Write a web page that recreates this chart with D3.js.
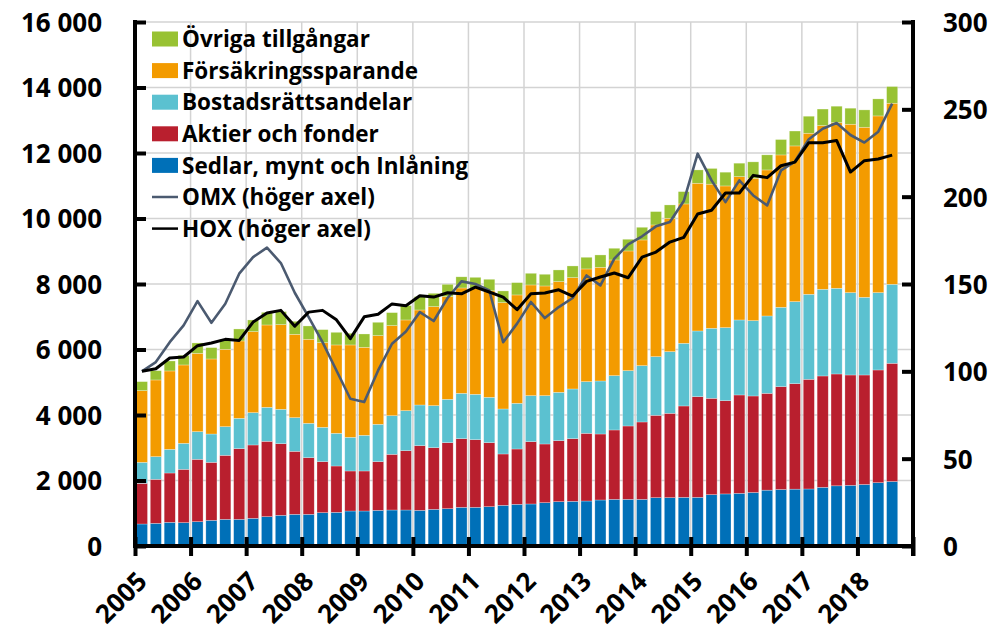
<!DOCTYPE html>
<html>
<head>
<meta charset="utf-8">
<script src="https://cdn.jsdelivr.net/npm/d3@7"></script>
<style>
  html, body { margin: 0; padding: 0; background: #ffffff; }
  svg { display: block; }
  text { font-family: "Open Sans", Lato, "Noto Sans", sans-serif; font-weight: 700; fill: #000; }
</style>
</head>
<body>
<svg id="chart" width="999" height="632"></svg>
<script>
// ---------------- DATA ----------------
const years = [2005, 2006, 2007, 2008, 2009, 2010, 2011, 2012, 2013, 2014, 2015, 2016, 2017, 2018];
const quarterNames = ["Q1", "Q2", "Q3", "Q4"];

const yearTicks = [2005, 2006, 2007, 2008, 2009, 2010, 2011, 2012, 2013, 2014, 2015, 2016, 2017, 2018, 2019];
const leftTicks = [0, 2000, 4000, 6000, 8000, 10000, 12000, 14000, 16000];
const rightTicks = [0, 50, 100, 150, 200, 250, 300];

// Sedlar, mynt och Inlåning
const sedlar = [672, 692, 723, 713, 743, 784, 814, 814, 845, 896, 937, 967, 967, 1018,
  1028, 1069, 1069, 1089, 1099, 1099, 1089, 1120, 1140, 1181, 1181, 1201, 1242, 1273,
  1283, 1323, 1354, 1364, 1374, 1405, 1425, 1425, 1425, 1476, 1476, 1486, 1486, 1568,
  1590, 1608, 1634, 1705, 1726, 1736, 1741, 1792, 1838, 1853, 1878, 1934, 1970];
// Aktier och fonder
const aktier = [1242, 1344, 1506, 1628, 1904, 1771, 1955, 2159, 2240, 2301, 2188, 1924, 1731, 1558,
  1415, 1222, 1222, 1487, 1701, 1812, 1975, 1883, 2016, 2097, 2066, 1955, 1568, 1689,
  1903, 1792, 1863, 1914, 2067, 2015, 2118, 2240, 2362, 2515, 2576, 2790, 3075, 2942,
  2848, 3004, 2947, 2957, 3140, 3222, 3349, 3400, 3415, 3369, 3344, 3441, 3609];
// Bostadsrättsandelar
const bostadsratt = [641, 692, 723, 794, 845, 865, 875, 926, 987, 1038, 1049, 1028, 1048, 1048,
  998, 1028, 1089, 1140, 1180, 1222, 1242, 1283, 1323, 1384, 1385, 1384, 1374, 1395,
  1405, 1476, 1476, 1517, 1578, 1619, 1659, 1690, 1720, 1791, 1883, 1913, 2005, 2138,
  2230, 2290, 2301, 2362, 2423, 2504, 2596, 2647, 2616, 2515, 2372, 2362, 2412];
// Försäkringssparande
const forsakring = [2189, 2342, 2393, 2393, 2392, 2291, 2362, 2362, 2474, 2514, 2586, 2545, 2566, 2586,
  2698, 2820, 2687, 2708, 2749, 2769, 2901, 3023, 3136, 3217, 3227, 3253, 3247, 3309,
  3380, 3349, 3380, 3400, 3441, 3471, 3532, 3654, 3838, 4021, 4072, 4256, 4510, 4400,
  4326, 4377, 4347, 4459, 4652, 4754, 4917, 4998, 5060, 5141, 5192, 5395, 5528];
// Övriga tillgångar
const ovriga = [275, 285, 305, 295, 316, 346, 306, 366, 356, 387, 397, 397, 407, 397,
  386, 356, 407, 407, 397, 438, 408, 407, 376, 340, 345, 351, 357, 376,
  356, 357, 356, 356, 356, 377, 357, 357, 387, 408, 407, 376, 407, 480,
  420, 410, 500, 460, 470, 455, 520, 505, 500, 490, 530, 520, 510];

// OMX (höger axel)
const omx = [100, 105.3, 116.7, 126.3, 140.2, 127.8, 138.7, 155.9, 165.4, 170.8, 162, 145, 131, 116.7,
  100.5, 84.3, 82.4, 100.5, 115.8, 122.8, 133.9, 128.8, 142, 151.5, 150, 146.3, 116.7, 127.3,
  139.7, 130.5, 136.8, 142, 154.9, 149.2, 164.5, 172.7, 177.3, 183, 185.5, 197.5, 224.6, 209.3,
  196.9, 209.3, 200.7, 195, 215, 220.1, 232.9, 238.9, 242.2, 235.3, 231, 237.2, 253.3];
// HOX (höger axel)
const hox = [100, 101.5, 107.6, 108.2, 114.7, 116.2, 118.3, 117.7, 128.2, 133.4, 134.9, 125.8, 133.9, 134.9,
  129.5, 118.7, 131.2, 132.7, 138.6, 137.6, 143.3, 142.5, 145, 144.4, 148.2, 145.4, 142.5, 135.3,
  144.4, 144.8, 146.7, 143.1, 151.5, 154, 156.3, 153.6, 165.4, 168.3, 174, 176.7, 190.1, 192.2,
  202.1, 202.1, 212.2, 210.9, 217.7, 219.8, 230.9, 230.9, 232.2, 214.1, 220.6, 221.6, 223.8];

const seriesNames = ["Sedlar, mynt och Inlåning", "Aktier och fonder", "Bostadsrättsandelar",
  "Försäkringssparande", "Övriga tillgångar"];
const seriesKeys = ["sedlar", "aktier", "bostadsratt", "forsakring", "ovriga"];
const seriesColors = ["#0070b8", "#b91f2e", "#5bc1d0", "#f39b00", "#98c233"];
const lineNames = ["OMX (höger axel)", "HOX (höger axel)"];
const lineColors = ["#4b5a70", "#000000"];

// ---------------- BUILD ----------------
const quarters = years.flatMap(y => quarterNames.map(q => y + q));
const seriesArrays = [sedlar, aktier, bostadsratt, forsakring, ovriga];
const table = sedlar.map((_, i) => {
  const row = { q: quarters[i] };
  seriesKeys.forEach((k, j) => row[k] = seriesArrays[j][i]);
  return row;
});

const svg = d3.select("#chart");
const plot = { left: 135, right: 913, top: 22, bottom: 546 };

const x = d3.scaleBand().domain(quarters).range([plot.left, plot.right])
  .paddingInner(0.2).paddingOuter(0.1);
const xYear = d3.scaleLinear().domain([2005, 2019]).range([plot.left, plot.right]);
const yL = d3.scaleLinear().domain([0, 16000]).range([plot.bottom, plot.top]);
const yR = d3.scaleLinear().domain([0, 300]).range([plot.bottom, plot.top]);

// gridlines
const grid = svg.append("g").attr("class", "grid");
grid.selectAll("line.h").data(leftTicks.filter(d => d > 0)).join("line")
  .attr("x1", plot.left).attr("x2", plot.right)
  .attr("y1", d => yL(d)).attr("y2", d => yL(d))
  .attr("stroke", "#d3d3d3").attr("stroke-width", 1.5);
grid.selectAll("line.v").data(yearTicks.filter(d => d > 2005 && d < 2019)).join("line")
  .attr("x1", d => xYear(d)).attr("x2", d => xYear(d))
  .attr("y1", plot.top).attr("y2", plot.bottom)
  .attr("stroke", "#d3d3d3").attr("stroke-width", 1.5);

// stacked bars
const stack = d3.stack().keys(seriesKeys)(table);
svg.append("g").selectAll("g").data(stack).join("g")
  .attr("fill", (d, i) => seriesColors[i])
  .selectAll("rect").data(d => d).join("rect")
  .attr("x", d => x(d.data.q))
  .attr("width", x.bandwidth())
  .attr("y", d => yL(d[1]))
  .attr("height", d => yL(d[0]) - yL(d[1]))
  .attr("stroke", "#ffffff").attr("stroke-width", 0.6).attr("stroke-opacity", 0.45);

// lines
const lineGen = d3.line()
  .x((d, i) => x(quarters[i]) + x.bandwidth() / 2)
  .y(d => yR(d));
[omx, hox].forEach((arr, i) => {
  svg.append("path").datum(arr)
    .attr("d", lineGen)
    .attr("fill", "none")
    .attr("stroke", lineColors[i])
    .attr("stroke-width", i === 0 ? 2.6 : 3)
    .attr("stroke-linejoin", "round");
});

// axes
const fmt = d3.formatLocale({ decimal: ",", thousands: " ", grouping: [3], currency: ["", ""] }).format(",");

const gL = svg.append("g").attr("transform", `translate(${plot.left},0)`)
  .call(d3.axisLeft(yL).tickValues(leftTicks).tickSize(-11).tickSizeOuter(0).tickPadding(33).tickFormat(fmt));
const gR = svg.append("g").attr("transform", `translate(${plot.right},0)`)
  .call(d3.axisRight(yR).tickValues(rightTicks).tickSize(-11).tickSizeOuter(0).tickPadding(30));
const gB = svg.append("g").attr("transform", `translate(0,${plot.bottom})`)
  .call(d3.axisBottom(xYear).tickValues(yearTicks).tickSize(10).tickSizeOuter(0)
    .tickFormat(d => d < 2019 ? String(d) : ""));

[gL, gR, gB].forEach(g => {
  g.select(".domain").attr("stroke", "#000").attr("stroke-width", 4);
  g.selectAll(".tick line").attr("stroke", "#000").attr("stroke-width", 4);
  g.selectAll("text").attr("font-size", 26).attr("font-family", null).attr("fill", "#000");
});
gL.selectAll("text").attr("dy", "0.36em");
gR.selectAll("text").attr("dy", "0.36em");
gB.selectAll(".tick line").attr("y1", -9).attr("y2", 10);
gB.selectAll("text")
  .attr("y", 0).attr("dy", 0)
  .attr("text-anchor", "end")
  .attr("transform", "translate(13,37) rotate(-45)");
// extend left & right axis lines a touch
gL.select(".domain").attr("d", `M0,${plot.bottom + 2}V${plot.top - 2}`);
gR.select(".domain").attr("d", `M0,${plot.bottom + 10}V${plot.top - 2}`);
gB.select(".domain").attr("d", `M${plot.left - 2},0H${plot.right + 2}`);

// legend
const legend = svg.append("g").attr("transform", "translate(152,39)");
const legendItems = [
  { name: seriesNames[4], color: seriesColors[4], type: "rect" },
  { name: seriesNames[3], color: seriesColors[3], type: "rect" },
  { name: seriesNames[2], color: seriesColors[2], type: "rect" },
  { name: seriesNames[1], color: seriesColors[1], type: "rect" },
  { name: seriesNames[0], color: seriesColors[0], type: "rect" },
  { name: lineNames[0], color: lineColors[0], type: "line" },
  { name: lineNames[1], color: lineColors[1], type: "line" }
];
const li = legend.selectAll("g").data(legendItems).join("g")
  .attr("transform", (d, i) => `translate(0,${i * 31.6})`);
li.filter(d => d.type === "rect").append("rect")
  .attr("x", 0).attr("y", -7.5).attr("width", 26).attr("height", 15).attr("fill", d => d.color);
li.filter(d => d.type === "line").append("line")
  .attr("x1", 0).attr("x2", 26).attr("y1", 0).attr("y2", 0)
  .attr("stroke", d => d.color).attr("stroke-width", 2.5);
li.append("text").attr("x", 30).attr("y", 0).attr("dy", "0.36em")
  .attr("font-size", 22.5).text(d => d.name);
</script>
</body>
</html>
